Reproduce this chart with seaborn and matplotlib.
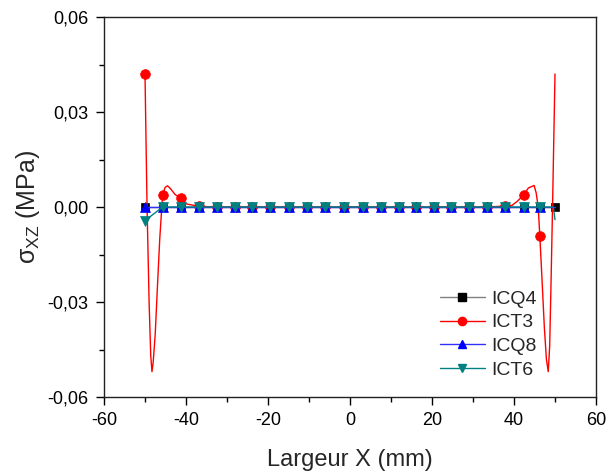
import matplotlib
matplotlib.use("Agg")
import matplotlib.pyplot as plt
import numpy as np
import pandas as pd
import seaborn as sns
from matplotlib.lines import Line2D
from matplotlib.ticker import FuncFormatter, MultipleLocator

# node positions (mm) where markers are drawn
x_nodes = [-50.0, -45.7, -41.3, -36.9, -32.5, -28.1, -23.8, -19.4, -15.0, -10.6,
           -6.0, -1.4, 3.1, 7.6, 12.0, 16.2, 20.4, 24.6, 29.0, 33.4, 37.9, 42.4, 46.3]

# ICQ4: marked on every node plus the end node
icq4_x = x_nodes + [50.0]
icq4_y = [0.0, 0.0, 0.0, 0.0, 0.0, 0.0, 0.0, 0.0, 0.0, 0.0, 0.0, 0.0,
          0.0, 0.0, 0.0, 0.0, 0.0, 0.0, 0.0, 0.0, 0.0, 0.0, 0.0, 0.0]

# ICQ8
icq8_y = [0.0, 0.0, 0.0, 0.0, 0.0, 0.0, 0.0, 0.0, 0.0, 0.0, 0.0, 0.0,
          0.0, 0.0, 0.0, 0.0, 0.0, 0.0, 0.0, 0.0, 0.0, 0.0, 0.0]
icq8_end_x = [50.0]
icq8_end_y = [0.0]

# ICT6
ict6_y = [-0.0043, 0.0, 0.0, 0.0, 0.0, 0.0, 0.0, 0.0, 0.0, 0.0, 0.0, 0.0,
          0.0, 0.0, 0.0, 0.0, 0.0, 0.0, 0.0, 0.0, 0.0, 0.0, 0.0]
ict6_end_x = [49.6, 50.0]
ict6_end_y = [0.0, -0.004]

# ICT3: marked points
ict3_y = [0.042, 0.0039, 0.0027, 0.0002, 0.0, 0.0, 0.0, 0.0, 0.0, 0.0, 0.0, 0.0,
          0.0, 0.0, 0.0, 0.0, 0.0, 0.0, 0.0, 0.0, 0.0003, 0.0039, -0.0092]
# ICT3: intermediate points of the curve (no marker)
ict3_mid_x = [-49.5, -49.0, -48.6, -48.3, -48.0, -47.5, -47.0, -46.4, -45.9,
              -45.1, -44.5, -43.8, -42.7, -40.0,
              39.5, 40.8, 43.5, 44.9, 45.4, 45.9,
              46.8, 47.4, 47.9, 48.35, 48.7, 49.0, 49.4, 50.0]
ict3_mid_y = [0.0, -0.030, -0.047, -0.052, -0.049, -0.040, -0.026, -0.010, 0.0,
              0.0062, 0.0067, 0.0058, 0.0040, 0.0010,
              0.0005, 0.0018, 0.0060, 0.0068, 0.0045, 0.0,
              -0.022, -0.038, -0.048, -0.052, -0.044, -0.026, 0.0, 0.042]


def series(mark_x, mark_y, extra_x=(), extra_y=()):
    df = pd.DataFrame({"x": list(mark_x) + list(extra_x),
                       "y": list(mark_y) + list(extra_y),
                       "m": [True] * len(mark_x) + [False] * len(extra_x)})
    df = df.sort_values("x").reset_index(drop=True)
    return df, list(df.index[df["m"]])


sns.set_style("ticks")
plt.rcParams["font.family"] = ["Liberation Sans", "DejaVu Sans"]
plt.rcParams["axes.unicode_minus"] = False
plt.rcParams["mathtext.fontset"] = "custom"
plt.rcParams["mathtext.rm"] = "Liberation Sans"
plt.rcParams["mathtext.it"] = "Liberation Sans"

fig = plt.figure(figsize=(6.08, 4.72), dpi=100)
ax = fig.add_axes([104 / 608, 1 - 397 / 472, 492 / 608, 380 / 472])

styles = [
    ("ICQ4", "#808080", "black", "s", 6.0),
    ("ICT3", "#ff0000", "#ff0000", "o", 7.0),
    ("ICQ8", "#3030ff", "#0000ff", "^", 7.0),
    ("ICT6", "#008080", "#008080", "v", 7.0),
]
data = [
    series(icq4_x, icq4_y),
    series(x_nodes, ict3_y, ict3_mid_x, ict3_mid_y),
    series(x_nodes, icq8_y, icq8_end_x, icq8_end_y),
    series(x_nodes, ict6_y, ict6_end_x, ict6_end_y),
]

handles = []
for (name, lc, mc, mk, ms), (df, marks) in zip(styles, data):
    sns.lineplot(data=df, x="x", y="y", ax=ax, sort=False, estimator=None,
                 color=lc, linewidth=1.0, marker=mk, markersize=ms,
                 markerfacecolor=mc, markeredgecolor=mc, markeredgewidth=0.5,
                 markevery=marks)
    handles.append(Line2D([], [], color=lc, linewidth=1.0, marker=mk,
                          markersize=ms * 0.85, markerfacecolor=mc,
                          markeredgecolor=mc, label=name))

ax.set_xlim(-60, 60)
ax.set_ylim(-0.06, 0.06)
ax.xaxis.set_major_locator(MultipleLocator(20))
ax.xaxis.set_minor_locator(MultipleLocator(10))
ax.yaxis.set_major_locator(MultipleLocator(0.03))
ax.yaxis.set_minor_locator(MultipleLocator(0.015))
ax.yaxis.set_major_formatter(FuncFormatter(lambda v, p: f"{v:.2f}".replace(".", ",")))
ax.tick_params(which="major", direction="out", length=6, width=1, labelsize=13,
               colors="black", pad=5)
ax.tick_params(which="minor", direction="out", length=3.5, width=1, colors="black")
for s in ax.spines.values():
    s.set_linewidth(1.0)
    s.set_color("#222222")

ax.set_xlabel("Largeur X (mm)", fontsize=17, labelpad=14)
ax.set_ylabel(r"$\sigma_{\mathrm{XZ}}$ (MPa)", fontsize=18, labelpad=4)

fig.legend(handles=handles, loc="upper left", bbox_to_anchor=(440 / 608, 1 - 290 / 472),
           frameon=False, fontsize=14, handlelength=2.3, handletextpad=0.35,
           labelspacing=0.32, borderpad=0, borderaxespad=0)

fig.savefig("out.png", dpi=100)
